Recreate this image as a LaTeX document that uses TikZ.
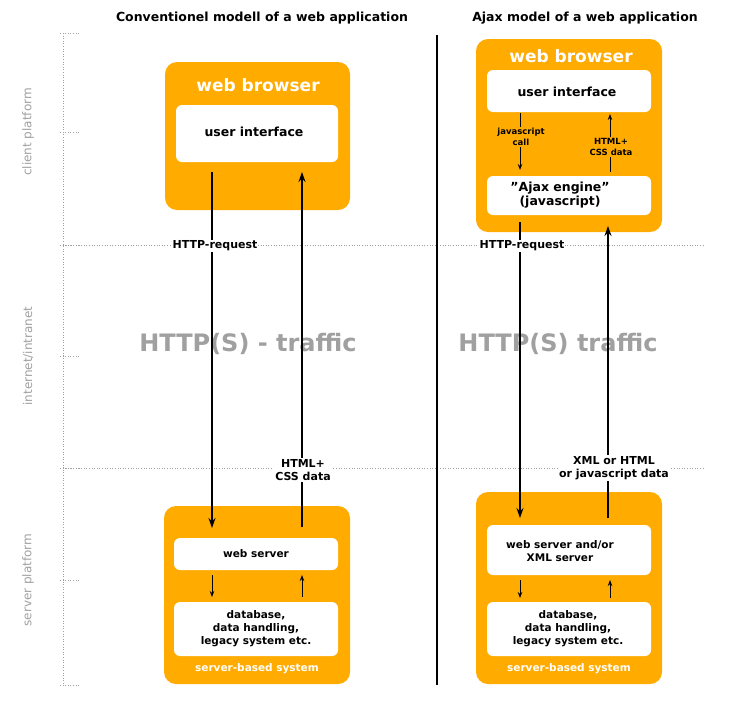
\documentclass[tikz,border=0pt]{standalone}
\usepackage{fontspec}
\setmainfont{DejaVu Sans}
\usetikzlibrary{arrows.meta}
\definecolor{ajaxorange}{HTML}{FFAB00}
\definecolor{axisgray}{HTML}{A0A0A0}
\tikzset{
	outerbox/.style={fill=ajaxorange,rounded corners=12pt},
	innerbox/.style={fill=white,rounded corners=6pt,font=\bfseries\fontsize{12.5}{15}\selectfont,align=center},
	flow/.style={-{Stealth[length=10pt,width=7pt]},line width=1.3pt},
	smallflow/.style={-{Stealth[length=6pt,width=4.5pt]},line width=0.9pt},
	lbl/.style={font=\bfseries\fontsize{11}{13}\selectfont,align=center},
	tiny lbl/.style={font=\bfseries\fontsize{8.5}{11}\selectfont,align=center},
	guide/.style={axisgray,dotted,line width=0.6pt},
	axis lbl/.style={rotate=90,axisgray,font=\fontsize{12}{14}\selectfont},
}
\begin{document}
\begin{tikzpicture}[x=1pt,y=-1pt]
	\useasboundingbox (0,0) rectangle (730,718);
	%
	%  AXES
	%
	\draw[guide] (63,33) -- (63,685);
	\draw[guide] (63,245) -- (705,245);
	\draw[guide] (63,468) -- (705,468);
	\foreach \y in {33,132,245,356,468,580,685}
		\draw[guide] (60,\y) -- (80,\y);
	\node[axis lbl] (client) at (28,132) {client platform};
	\node[axis lbl] (inet) at (28,356) {internet/intranet};
	\node[axis lbl] (server) at (28,580) {server platform};
	\draw[line width=2pt] (437,35) -- (437,685);
	%
	%  TITLES
	%
	\node[font=\bfseries\fontsize{12.5}{15}\selectfont] (t1) at (262,18) {Conventionel modell of a web application};
	\node[font=\bfseries\fontsize{12.5}{15}\selectfont] (t2) at (585,18) {Ajax model of a web application};
	\node[axisgray,font=\bfseries\fontsize{24}{28}\selectfont] (h1) at (248,344) {HTTP(S) - traffic};
	\node[axisgray,font=\bfseries\fontsize{24}{28}\selectfont] (h2) at (558,344) {HTTP(S) traffic};
	%
	%  CLASSIC MODEL
	%
	\fill[outerbox] (165,62) rectangle (350,210);
	\node[white,font=\bfseries\fontsize{17}{20}\selectfont] (wb1) at (258,85) {web browser};
	\fill[innerbox] (176,105) rectangle (338,162);
	\node[innerbox] (ui1) at (254,132) {user interface};
	\fill[outerbox] (164,506) rectangle (350,684);
	\fill[innerbox] (174,538) rectangle (338,570);
	\node[innerbox,font=\bfseries\fontsize{10.5}{13}\selectfont] (ws1) at (256,554) {web server};
	\fill[innerbox] (174,602) rectangle (338,656);
	\node[innerbox,font=\bfseries\fontsize{10.5}{13}\selectfont] (db1) at (256,629) {database,\\data handling,\\legacy system etc.};
	\node[white,font=\bfseries\fontsize{10.5}{13}\selectfont] (sb1) at (257,669) {server-based system};
	\coordinate (a1) at (212,172);
	\coordinate (b1) at (212,528);
	\coordinate (c1) at (302,527);
	\coordinate (d1) at (302,172);
	\draw[flow] (a1) -- (b1);
	\draw[flow] (c1) -- (d1);
	\node[lbl,fill=white,inner sep=1pt] (req1) at (215,246) {HTTP-request};
	\node[lbl,fill=white,inner sep=1pt] (resp1) at (303,470) {HTML+\\CSS data};
	\coordinate (e1) at (212,575);
	\coordinate (f1) at (212,597);
	\coordinate (g1) at (302,597);
	\coordinate (h1e) at (302,575);
	\draw[smallflow] (e1) -- (f1);
	\draw[smallflow] (g1) -- (h1e);
	%
	%  AJAX MODEL
	%
	\fill[outerbox] (476,39) rectangle (662,232);
	\node[white,font=\bfseries\fontsize{17}{20}\selectfont] (wb2) at (571,56) {web browser};
	\fill[innerbox] (487,70) rectangle (651,112);
	\node[innerbox] (ui2) at (567,92) {user interface};
	\fill[innerbox] (487,176) rectangle (651,215);
	\node[innerbox,font=\bfseries\fontsize{12.5}{14}\selectfont] (eng) at (560,195) {\symbol{34}Ajax engine\symbol{34}\\(javascript)};
	\coordinate (a2) at (520,113);
	\coordinate (b2) at (520,170);
	\coordinate (c2) at (610,172);
	\coordinate (d2) at (610,114);
	\draw[smallflow] (a2) -- (b2);
	\draw[smallflow] (c2) -- (d2);
	\node[tiny lbl,fill=ajaxorange,inner sep=1pt] (call) at (521,137) {javascript\\call};
	\node[tiny lbl,fill=ajaxorange,inner sep=1pt] (css2) at (611,147) {HTML+\\CSS data};
	\fill[outerbox] (476,492) rectangle (662,684);
	\fill[innerbox] (487,525) rectangle (651,575);
	\node[innerbox,font=\bfseries\fontsize{10.5}{13}\selectfont] (ws2) at (560,551) {web server and/or\\XML server};
	\fill[innerbox] (487,602) rectangle (651,656);
	\node[innerbox,font=\bfseries\fontsize{10.5}{13}\selectfont] (db2) at (568,629) {database,\\data handling,\\legacy system etc.};
	\node[white,font=\bfseries\fontsize{10.5}{13}\selectfont] (sb2) at (569,669) {server-based system};
	\coordinate (p2) at (520,222);
	\coordinate (q2) at (520,518);
	\coordinate (r2) at (608,518);
	\coordinate (s2) at (608,226);
	\draw[flow] (p2) -- (q2);
	\draw[flow] (r2) -- (s2);
	\node[lbl,fill=white,inner sep=1pt] (req2) at (522,246) {HTTP-request};
	\node[lbl,fill=white,inner sep=1pt] (resp2) at (614,468) {XML or HTML\\or javascript data};
	\coordinate (e2) at (520,580);
	\coordinate (f2) at (520,598);
	\coordinate (g2) at (610,598);
	\coordinate (h2e) at (610,580);
	\draw[smallflow] (e2) -- (f2);
	\draw[smallflow] (g2) -- (h2e);
\end{tikzpicture}
\end{document}
